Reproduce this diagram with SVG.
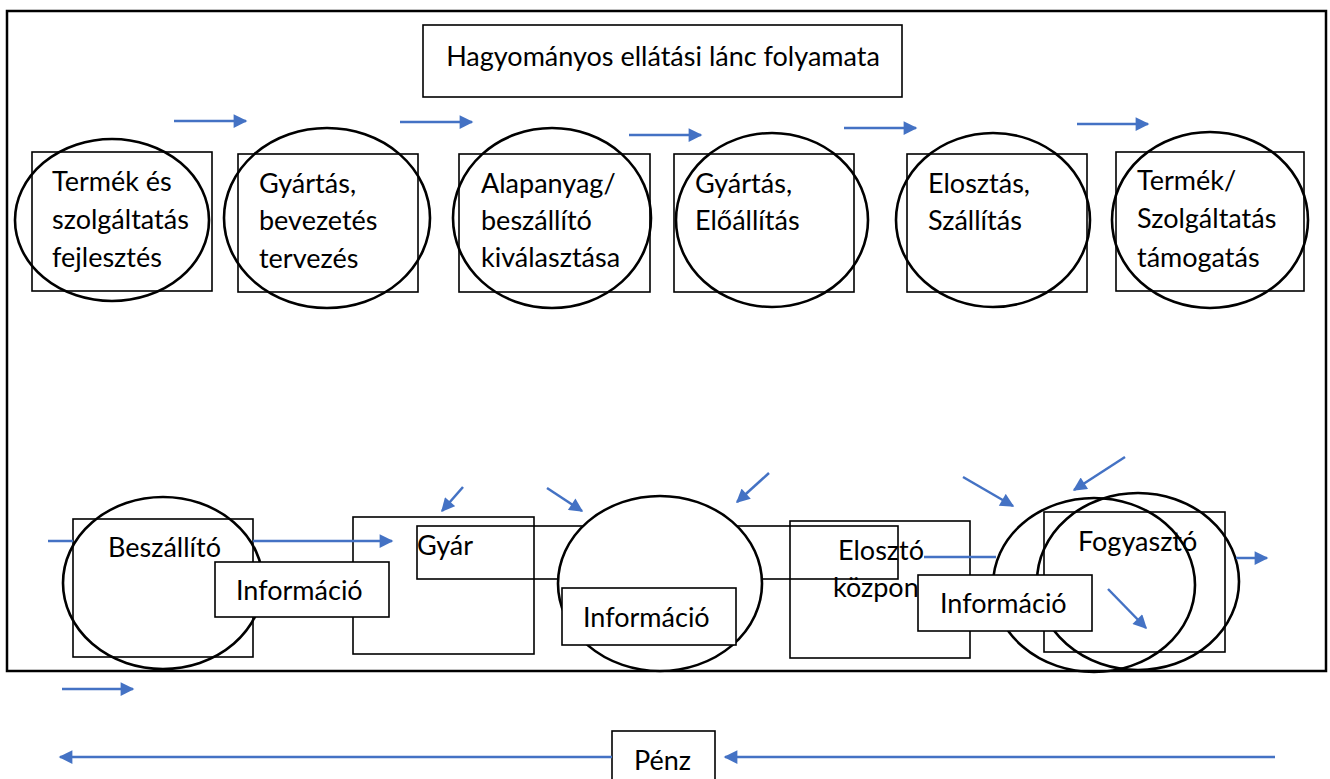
<svg xmlns="http://www.w3.org/2000/svg" width="1330" height="779" viewBox="0 0 1330 779">
<defs>
<style>
text{font-family:"Lato","Liberation Sans",sans-serif;font-size:27px;fill:#000}
.box{fill:none;stroke:#000;stroke-width:1.6}
.wbox{fill:#fff;stroke:#000;stroke-width:1.6}
.ell{fill:none;stroke:#000;stroke-width:2.6}
.well{fill:#fff;stroke:#000;stroke-width:2.6}
.arr{fill:none;stroke:#4472C4;stroke-width:2.5;marker-end:url(#ah)}
.ln{fill:none;stroke:#4472C4;stroke-width:2.5}
</style>
<marker id="ah" viewBox="0 0 10 10" refX="9" refY="5" markerWidth="6" markerHeight="5.5" markerUnits="strokeWidth" orient="auto">
<path d="M0,0 L10,5 L0,10 z" fill="#4472C4"/>
</marker>
</defs>
<rect width="1330" height="779" fill="#fff"/>
<rect x="7" y="11" width="1319" height="660" fill="none" stroke="#000" stroke-width="2.5"/>

<g id="title">
<rect class="box" x="423" y="25" width="479" height="72"/>
<text x="663" y="66" text-anchor="middle">Hagyományos ellátási lánc folyamata</text>
</g>

<g id="n1">
<rect class="box" x="32" y="152" width="180" height="139"/>
<ellipse class="ell" cx="112" cy="220" rx="97" ry="81"/>
<text x="52" y="191">Termék és</text>
<text x="52" y="229">szolgáltatás</text>
<text x="52" y="267">fejlesztés</text>
</g>
<g id="n2">
<rect class="box" x="238" y="154" width="180" height="138"/>
<ellipse class="ell" cx="327" cy="218" rx="103" ry="90"/>
<text x="259" y="193">Gyártás,</text>
<text x="259" y="230">bevezetés</text>
<text x="259" y="268">tervezés</text>
</g>
<g id="n3">
<rect class="box" x="459" y="154" width="191" height="138"/>
<ellipse class="ell" cx="552" cy="218" rx="99" ry="90"/>
<text x="481" y="193">Alapanyag/</text>
<text x="481" y="230">beszállító</text>
<text x="481" y="267">kiválasztása</text>
</g>
<g id="n4">
<rect class="box" x="674" y="154" width="180" height="138"/>
<ellipse class="ell" cx="772" cy="220" rx="96" ry="87"/>
<text x="695" y="193">Gyártás,</text>
<text x="695" y="230">Előállítás</text>
</g>
<g id="n5">
<rect class="box" x="907" y="154" width="180" height="138"/>
<ellipse class="ell" cx="993" cy="220" rx="97" ry="87"/>
<text x="928" y="193">Elosztás,</text>
<text x="928" y="230">Szállítás</text>
</g>
<g id="n6">
<rect class="box" x="1116" y="152" width="188" height="139"/>
<ellipse class="ell" cx="1210" cy="220" rx="98" ry="88"/>
<text x="1137" y="190">Termék/</text>
<text x="1137" y="228">Szolgáltatás</text>
<text x="1137" y="267">támogatás</text>
</g>

<g id="beszallito">
<rect class="wbox" x="73" y="519" width="180" height="138"/>
<ellipse class="ell" cx="163" cy="583" rx="100" ry="86"/>
<text x="108" y="557">Beszállító</text>
</g>
<g id="gyar">
<rect class="box" x="353" y="517" width="181" height="137"/>
<rect class="box" x="417" y="526" width="481" height="53"/>
<text x="417" y="555">Gyár</text>
</g>
<g id="info1">
<rect class="wbox" x="215" y="562" width="174" height="55"/>
<text x="236" y="600">Információ</text>
</g>
<g id="info2">
<ellipse class="well" cx="660" cy="583.5" rx="102" ry="87.5"/>
<rect class="wbox" x="562" y="588" width="174" height="57"/>
<text x="583" y="627">Információ</text>
</g>
<g id="eloszto">
<rect class="box" x="790" y="521" width="180" height="137"/>
<text x="838" y="560">Elosztó</text>
<text x="833" y="597">közpon</text>
</g>
<g id="fogyaszto">
<rect class="box" x="1044" y="512" width="181" height="140"/>
<ellipse class="ell" cx="1094" cy="585" rx="101" ry="87"/>
<ellipse class="ell" cx="1138" cy="581.5" rx="101" ry="88.5"/>
<text x="1078" y="551">Fogyasztó</text>
</g>
<g id="info3">
<rect class="wbox" x="918" y="575" width="174" height="56"/>
<text x="940" y="613">Információ</text>
</g>
<g id="penz">
<rect class="box" x="612" y="731" width="103" height="60"/>
<text x="634" y="770">Pénz</text>
</g>

<g id="connectors">
<line class="arr" x1="174" y1="121" x2="246" y2="121"/>
<line class="arr" x1="400" y1="122" x2="472" y2="122"/>
<line class="arr" x1="629" y1="135" x2="701" y2="135"/>
<line class="arr" x1="844" y1="128" x2="916" y2="128"/>
<line class="arr" x1="1077" y1="124" x2="1148" y2="124"/>
<line class="ln" x1="48" y1="541" x2="73" y2="541"/>
<line class="arr" x1="253" y1="541" x2="392" y2="541"/>
<line class="arr" x1="463" y1="487" x2="442" y2="511"/>
<line class="arr" x1="547" y1="488" x2="582" y2="511"/>
<line class="arr" x1="769" y1="473" x2="737" y2="502"/>
<line class="ln" x1="924" y1="557" x2="996" y2="557"/>
<line class="arr" x1="963" y1="477" x2="1013" y2="506"/>
<line class="arr" x1="1125" y1="457" x2="1074" y2="490"/>
<line class="arr" x1="1108" y1="589" x2="1146" y2="628"/>
<line class="arr" x1="1236" y1="558" x2="1267" y2="558"/>
<line class="arr" x1="62" y1="689" x2="133" y2="689"/>
<line class="arr" x1="612" y1="757" x2="60" y2="757"/>
<line class="arr" x1="1275" y1="757" x2="725" y2="757"/>
</g>
</svg>
